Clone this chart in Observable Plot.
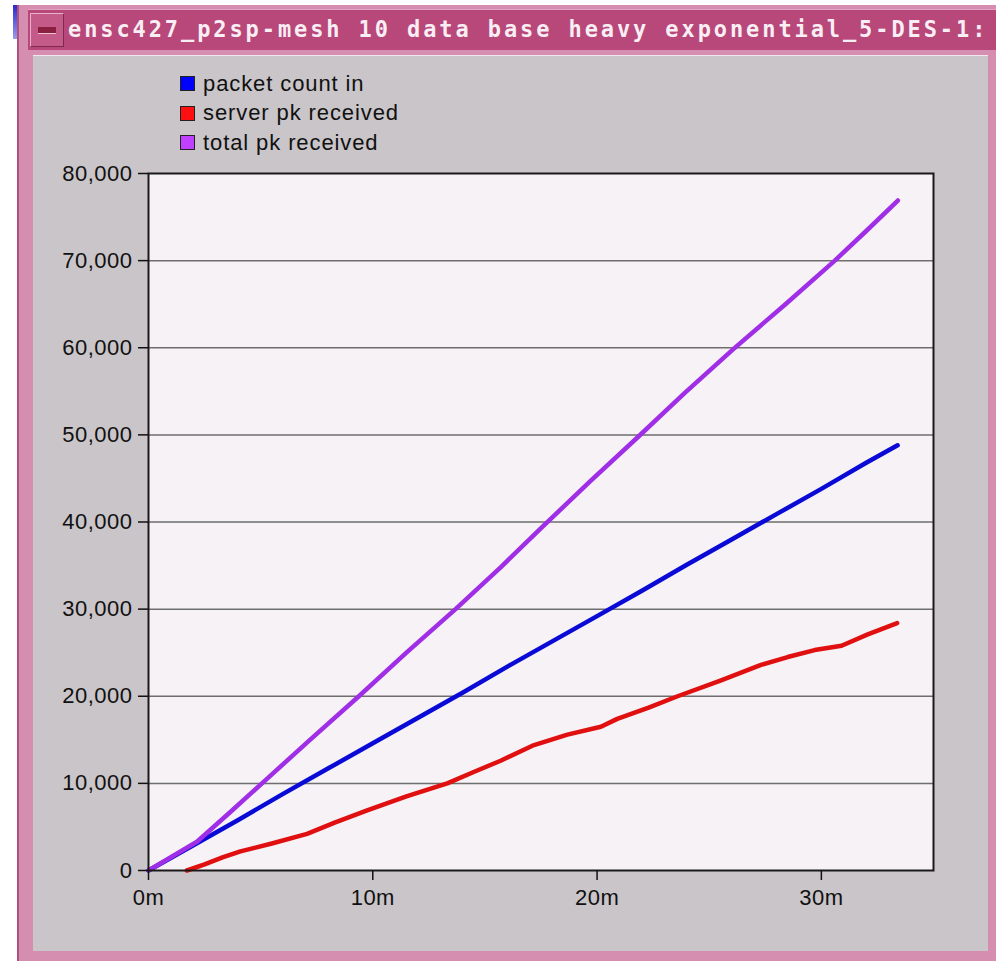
<!DOCTYPE html>
<html>
<head>
<meta charset="utf-8">
<script src="https://cdn.jsdelivr.net/npm/d3@7"></script>
<script src="https://cdn.jsdelivr.net/npm/@observablehq/plot@0.6"></script>
<style>
  html, body { margin: 0; padding: 0; }
  body { width: 996px; height: 961px; overflow: hidden; background: #ffffff; position: relative; font-family: "Liberation Sans", Arial, sans-serif; }
  #strip { position: absolute; left: 13px; top: 5px; width: 4px; height: 34px; background: linear-gradient(#2a2ad0, #9a9ae8); }
  #win { position: absolute; left: 17px; top: 5px; right: 0; bottom: 0; background: #d58db0; border-left: 2px solid #b0507e; }
  #titlebar { position: absolute; left: 28px; top: 9px; right: 0; height: 40px; background: #b8477a; border-top: 1px solid #e2a2c2; }
  #btn { position: absolute; left: 30px; top: 13px; width: 34px; height: 34px; background: #c45a88; border: 1px solid #e7b0cb; border-right-color: #7e2a50; border-bottom-color: #7e2a50; box-sizing: border-box; }
  #btn i { position: absolute; left: 7px; top: 13px; width: 18px; height: 6px; background: #8a1f40; border-bottom: 1px solid #f0c0d4; }
  #title { position: absolute; left: 68px; top: 19px; line-height: 22px; white-space: nowrap; font-family: "DejaVu Sans Mono", monospace; font-weight: bold; font-size: 22px; letter-spacing: 2.9px; color: #f8eef4; transform: scaleY(1.08); transform-origin: 0 100%; }
  #content { position: absolute; left: 33px; top: 55px; width: 955px; height: 895px; background: #c9c5c8; border-top: 1px solid #f2e6ee; }
  #legend { position: absolute; left: 180px; top: 69px; font-size: 22px; letter-spacing: 0.9px; color: #111; }
  .row { display: flex; align-items: center; height: 29.5px; }
  .sw { width: 13px; height: 13px; border: 1.5px solid #222; margin-right: 8px; }
  #chart { position: absolute; left: 33px; top: 160px; }
  #chart svg text { letter-spacing: 0.5px; }
</style>
</head>
<body>
<div id="strip"></div>
<div id="win"></div>
<div id="titlebar"></div>
<div id="btn"><i></i></div>
<div id="title">ensc427_p2sp-mesh 10 data base heavy exponential_5-DES-1:</div>
<div id="content"></div>
<div id="legend"></div>
<div id="chart"></div>
<script>
// Series names and colours
const seriesNames = ["packet count in", "server pk received", "total pk received"];
const lineColors = ["#0a0ad6", "#e01010", "#a02ee6"];
const swatchColors = ["#0000ff", "#ff1010", "#c040ff"];

// Time in minutes (x) and packet counts (y)
const blueT = [0, 2, 4, 6, 8, 10, 12, 14, 16, 18, 20, 22, 24, 26, 28, 30, 32, 33.4];
const blueV = [0, 2900, 5800, 8800, 11700, 14600, 17500, 20400, 23400, 26300, 29200, 32100, 35100, 38000, 40900, 43800, 46800, 48800];

const redT = [1.71, 2.5, 3.3, 4.1, 5.5, 7.07, 8.3, 9.75, 11.5, 13.32, 14.5, 15.7, 17.19, 18.68, 20.17, 20.9, 22.3, 23.59, 25.5, 27.31, 28.5, 29.7, 30.9, 32.07, 33.38];
const redV = [0, 700, 1500, 2200, 3100, 4200, 5500, 6900, 8500, 10000, 11300, 12600, 14400, 15600, 16500, 17400, 18700, 20000, 21800, 23600, 24500, 25300, 25800, 27100, 28400];

const purpleT = [0, 2.16, 3.6, 5.06, 7.2, 9.38, 11.5, 13.69, 15.7, 17.63, 19.7, 21.8, 23.9, 26.1, 28.4, 30.6, 32.0, 33.41];
const purpleV = [0, 3300, 6600, 10000, 15000, 20000, 25000, 30000, 34800, 39600, 44700, 49700, 54800, 59900, 65000, 70000, 73400, 76900];

const yTicks = [0, 10000, 20000, 30000, 40000, 50000, 60000, 70000, 80000];
const xTicks = [0, 10, 20, 30];
const xTickLabels = ["0m", "10m", "20m", "30m"];

const toRows = (T, V, s) => T.map((t, i) => ({t, v: V[i], s}));
const blue = toRows(blueT, blueV, seriesNames[0]);
const red = toRows(redT, redV, seriesNames[1]);
const purple = toRows(purpleT, purpleV, seriesNames[2]);

// legend
const lg = document.getElementById("legend");
seriesNames.forEach((n, i) => {
  const r = document.createElement("div"); r.className = "row";
  const sw = document.createElement("div"); sw.className = "sw"; sw.style.background = swatchColors[i];
  const tx = document.createElement("span"); tx.textContent = n;
  r.appendChild(sw); r.appendChild(tx); lg.appendChild(r);
});

const chart = Plot.plot({
  width: 955, height: 790,
  marginLeft: 115, marginRight: 55, marginTop: 13, marginBottom: 80,
  style: {background: "transparent", fontFamily: "'Liberation Sans', Arial, sans-serif", fontSize: "22px", color: "#111", overflow: "visible"},
  x: {domain: [0, 35]},
  y: {domain: [0, 80000]},
  marks: [
    Plot.frame({fill: "#f6f2f6", stroke: null}),
    Plot.gridY(yTicks.slice(1, -1), {stroke: "#6e6e6e", strokeOpacity: 1, strokeWidth: 1.5}),
    Plot.line(red, {x: "t", y: "v", stroke: lineColors[1], strokeWidth: 4.5, strokeLinejoin: "round", strokeLinecap: "round"}),
    Plot.line(blue, {x: "t", y: "v", stroke: lineColors[0], strokeWidth: 4.5, strokeLinejoin: "round", strokeLinecap: "round"}),
    Plot.line(purple, {x: "t", y: "v", stroke: lineColors[2], strokeWidth: 4.5, strokeLinejoin: "round", strokeLinecap: "round"}),
    Plot.frame({stroke: "#1a1a1a", strokeWidth: 2}),
    Plot.axisY(yTicks, {tickSize: 10, tickPadding: 6, tickFormat: d3.format(","), label: null, stroke: "#111", strokeWidth: 1.5}),
    Plot.axisX(xTicks, {tickSize: 10, tickPadding: 9, tickFormat: (d) => xTickLabels[xTicks.indexOf(d)], label: null, stroke: "#111", strokeWidth: 1.5})
  ]
});
document.getElementById("chart").appendChild(chart);
</script>
</body>
</html>
